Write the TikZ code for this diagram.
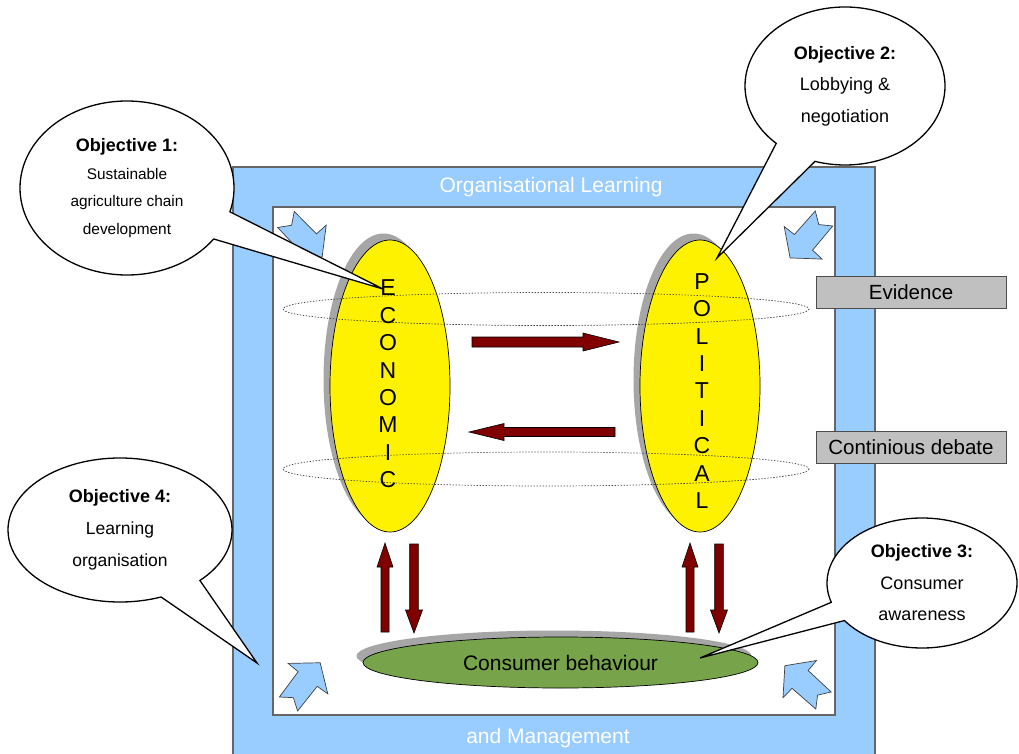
\documentclass[tikz,border=0pt]{standalone}
\usepackage{fontspec}
\setmainfont{Liberation Sans}
\usetikzlibrary{shapes.geometric,shapes.callouts,shadows}

\definecolor{framefill}{HTML}{99CCFF}
\definecolor{frameline}{HTML}{666666}
\definecolor{darkred}{HTML}{800000}
\definecolor{shadowgray}{HTML}{A6A6A6}
\definecolor{leafgreen}{HTML}{77A34A}
\definecolor{labelgray}{HTML}{C0C0C0}

\tikzset{
  % block arrow along +x: length, head length, shaft half width, head half width
  pics/fatarrow/.style n args={4}{code={
    \filldraw[arrowbody] (0,-#3) -- ({#1-#2},-#3) -- ({#1-#2},-#4) -- (#1,0)
      -- ({#1-#2},#4) -- ({#1-#2},#3) -- (0,#3) -- cycle;
  }},
  % notched arrow in the corners of the frame, pointing along +x
  pics/cornerarrow/.style={code={
    \filldraw[cornerstyle] (0,-11.5) -- (31.5,-12) -- (32,-25) -- (52,0)
      -- (32,25) -- (31.5,12) -- (0,11.5) -- (8,0) -- cycle;
  }},
}

\begin{document}
\begin{tikzpicture}[x=1pt, y=-1pt,
  every node/.style={inner sep=0pt, outer sep=0pt},
  frameband/.style={fill=framefill, draw=frameline, line width=1.2pt},
  innerfield/.style={fill=white, draw=frameline, line width=1.2pt},
  bandtitle/.style={text=white, font=\fontsize{21}{25}\selectfont},
  cornerstyle/.style={fill=framefill, draw=black!75, line width=0.7pt, line join=miter},
  arrowbody/.style={fill=darkred, draw=black, line width=0.6pt},
  grayshadow/.style={drop shadow={shadow xshift=-6.5pt, shadow yshift=6.5pt, fill=shadowgray, opacity=1}},
  sphere/.style={ellipse, draw=black, line width=0.7pt, fill=yellow,
    minimum width=120, minimum height=292, grayshadow},
  letters/.style={align=center, font=\fontsize{23}{27.4}\selectfont},
  ring/.style={draw=black!75, line width=0.7pt, dash pattern=on 1.4pt off 1.6pt},
  tag/.style={rectangle, fill=labelgray, draw=black!70, line width=0.8pt,
    minimum width=190, minimum height=32, font=\fontsize{20.5}{24}\selectfont},
  bubble/.style={ellipse callout, draw=black, line width=1.3pt, fill=white, align=center},
]
\path[use as bounding box, clip] (0,0) rectangle (1019,754);

% frame: Organisational Learning and Management
\path[frameband] (233,167) rectangle (875,770);
\path[innerfield] (273,207) rectangle (835,715);
\node[bandtitle] (toptitle) at (551,187) {Organisational Learning};
\node[bandtitle] (bottitle) at (548,738) {and Management};

% corner arrows
\pic[rotate=-46] at (286,219.5) {cornerarrow};
\pic[rotate=-130.7] at (824,218.5) {cornerarrow};
\pic[rotate=52.5] at (288.5,704) {cornerarrow};
\pic[rotate=138] at (823.5,700.5) {cornerarrow};

% the two pillars and the consumer base
\node[sphere] (eco) at (390,386) {};
\node[sphere] (pol) at (700,386) {};
\node[ellipse, draw=black, line width=0.7pt, fill=leafgreen, minimum width=395,
  minimum height=51, grayshadow, font=\fontsize{21}{25}\selectfont] (cons) at (560.5,662.5) {Consumer behaviour};

% dotted rings around both pillars
\draw[ring] (546,309) ellipse [x radius=263, y radius=16.5];
\draw[ring] (546,469) ellipse [x radius=263, y radius=17];

\node[letters] (ecotext) at (388,384) {E\\C\\O\\N\\O\\M\\I\\C};
\node[letters] (poltext) at (702,391) {P\\O\\L\\I\\T\\I\\C\\A\\L};

% exchange between pillars
\coordinate (r1) at (472,342);
\coordinate (l1) at (615,432);
\pic at (r1) {fatarrow={147}{36}{5}{9}};
\pic[rotate=180] at (l1) {fatarrow={146}{35}{4.5}{8.5}};

% exchange with consumers
\coordinate (u1) at (385,632);
\coordinate (d1) at (414,544);
\coordinate (u2) at (690,632);
\coordinate (d2) at (719,544);
\pic[rotate=90] at (u1) {fatarrow={89}{24}{4}{8}};
\pic[rotate=-90] at (d1) {fatarrow={89}{23}{4.3}{8.5}};
\pic[rotate=90] at (u2) {fatarrow={89}{24}{4}{8}};
\pic[rotate=-90] at (d2) {fatarrow={89}{23}{4.3}{8.5}};

% side labels
\node[tag] (evidence) at (911,292.5) {Evidence};
\node[tag] (debate) at (911,447) {Continious debate};

% objectives
\coordinate (tip1) at (383,289);
\coordinate (tip2) at (717,258);
\coordinate (tip3) at (700,658);
\coordinate (tip4) at (257,663);

\node[bubble, minimum width=214, minimum height=174, callout absolute pointer={(tip1)},
  callout pointer arc=20, font=\fontsize{15.4}{27.5}\selectfont] (obj1) at (127,188)
  {{\bfseries\fontsize{18}{27.5}\selectfont Objective 1:}\\Sustainable\\agriculture chain\\development};
\node[bubble, minimum width=200, minimum height=158, callout absolute pointer={(tip2)},
  callout pointer arc=26, font=\fontsize{18}{31.5}\selectfont] (obj2) at (845,86)
  {{\bfseries Objective 2:}\\Lobbying \&\\negotiation};
\node[bubble, minimum width=190, minimum height=130, callout absolute pointer={(tip3)},
  callout pointer arc=18, font=\fontsize{18}{31.5}\selectfont] (obj3) at (922,583)
  {{\bfseries Objective 3:}\\Consumer\\awareness};
\node[bubble, minimum width=224, minimum height=144, callout absolute pointer={(tip4)},
  callout pointer arc=24, font=\fontsize{17.5}{32}\selectfont] (obj4) at (120,530)
  {{\bfseries\fontsize{18}{32}\selectfont Objective 4:}\\Learning\\organisation};
\end{tikzpicture}
\end{document}
